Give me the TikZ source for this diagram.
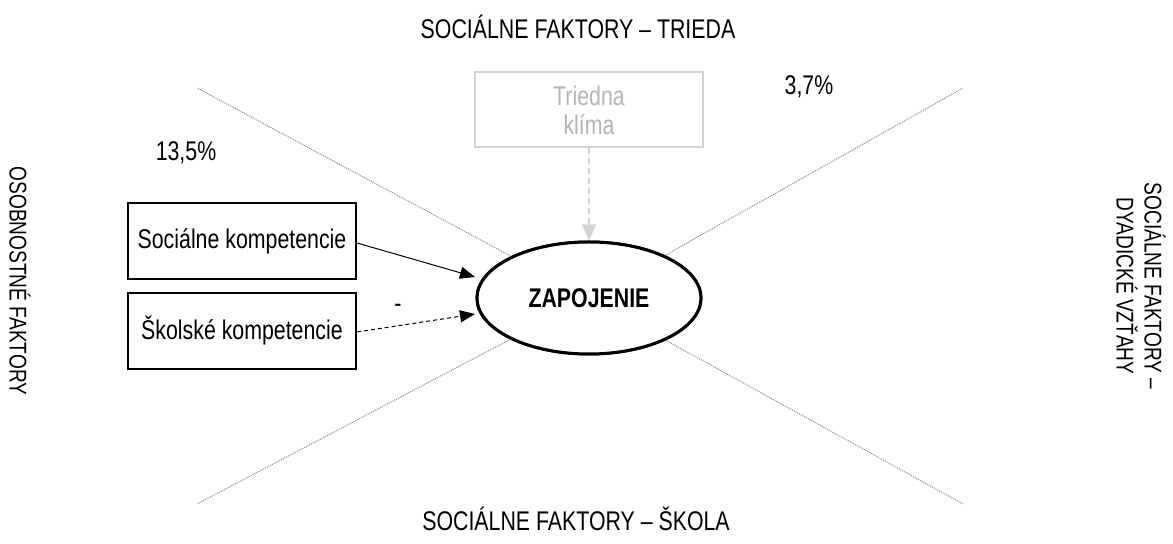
\documentclass[tikz,border=0pt]{standalone}
\usepackage{fontspec}
\setmainfont{Liberation Sans}[FakeStretch=0.79]
\usetikzlibrary{arrows.meta,shapes.geometric}
\definecolor{lightbox}{HTML}{D2D2D2}
\definecolor{lighttext}{HTML}{B4B4B4}
\definecolor{crossline}{HTML}{8C8C8C}
\begin{document}
\begin{tikzpicture}[x=0.5pt,y=-0.5pt,
  every node/.style={font=\fontsize{13.5}{14.5}\selectfont, inner sep=0pt},
  factorbox/.style={draw=black, line width=1pt, minimum width=114pt, minimum height=38pt},
  graybox/.style={draw=lightbox, line width=1pt, minimum width=114pt, minimum height=37.5pt, text=lighttext, align=center},
  target/.style={ellipse, draw=black, line width=1.5pt, fill=white, minimum width=112pt, minimum height=56pt, font=\fontsize{13.5}{14.5}\selectfont\bfseries},
  sector/.style={draw=crossline, line width=0.5pt, dash pattern=on 0.5pt off 0.5pt},
  tip/.style={-{Triangle[length=7.5pt,width=6pt]}},
  sidelabel/.style={align=center, rotate=-90, font=\fontsize{12.1}{14}\selectfont},
]
\useasboundingbox (0,0) rectangle (1173,544);

% sector boundaries
\coordinate (ul) at (197,88);
\coordinate (ur) at (963,88);
\coordinate (ll) at (197,504);
\coordinate (lr) at (963,504);

% central construct
\node[target] (z) at (589,298) {ZAPOJENIE};
\draw[sector] (z) -- (ul);
\draw[sector] (z) -- (ur);
\draw[sector] (z) -- (ll);
\draw[sector] (z) -- (lr);
\node[target] at (589,298) {ZAPOJENIE};

% predictors
\node[factorbox] (soc) at (242,241) {Sociálne kompetencie};
\node[factorbox] (sko) at (242,331) {Školské kompetencie};
\node[graybox] (tk) at (589,110) {Triedna\\klíma};

\coordinate (zs) at (475,277);
\coordinate (zk) at (475,314);
\draw[tip, line width=0.5pt] (soc.east |- 0,243) -- (zs);
\draw[tip, line width=0.5pt, dash pattern=on 2pt off 1.5pt] (sko.east |- 0,332) -- (zk);
\draw[-{Triangle[length=8pt,width=7pt]}, draw=lightbox, fill=lightbox, line width=0.6pt, dash pattern=on 3pt off 2pt] (tk) -- (z.north);

\node (minus) at (398,308) {-};

% explained variance
\node (p1) at (186,153) {13,5\%};
\node (p2) at (809,87) {3,7\%};

% sector titles
\node (t1) at (578,27) {SOCIÁLNE FAKTORY – TRIEDA};
\node (t2) at (576,519) {SOCIÁLNE FAKTORY – ŠKOLA};
\node[sidelabel] (t3) at (20,281) {OSOBNOSTNÉ FAKTORY};
\node[sidelabel] (t4) at (1141,286) {SOCIÁLNE FAKTORY –\\DYADICKÉ VZŤAHY};
\end{tikzpicture}
\end{document}
